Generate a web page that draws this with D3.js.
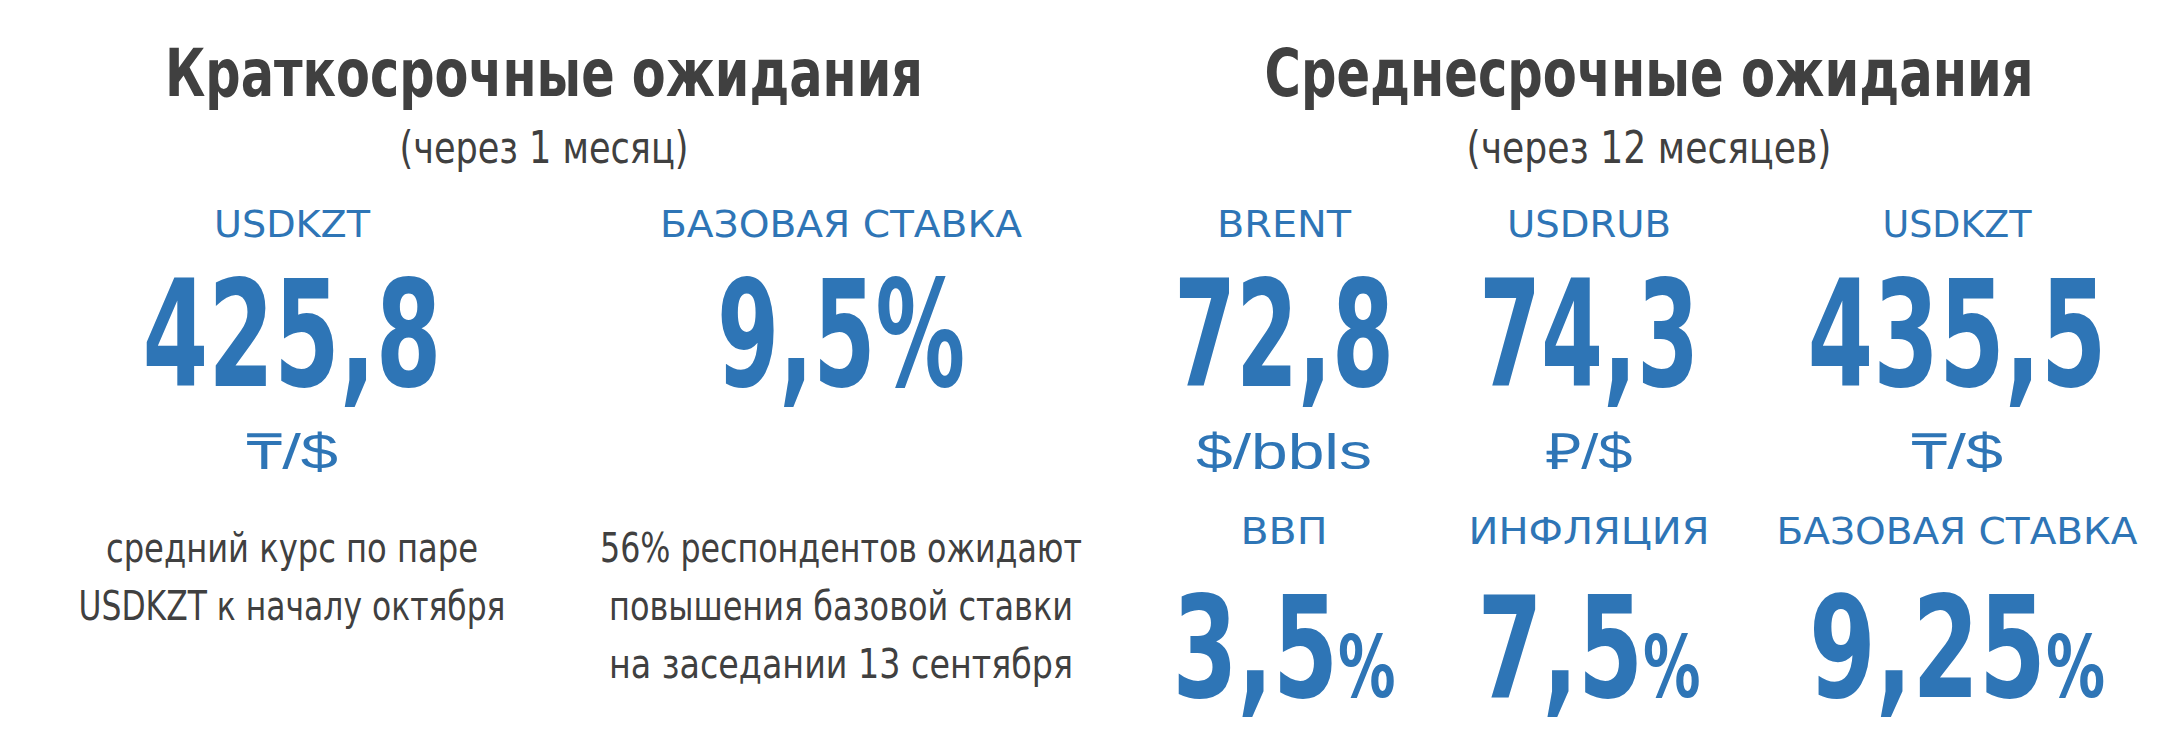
<!DOCTYPE html>
<html><head><meta charset="utf-8">
<script src="https://cdn.jsdelivr.net/npm/d3@7"></script>
<style>body{margin:0;background:#fff}</style>
</head><body>
<svg id="c" width="2160" height="745"></svg>
<script>
const titles = ["Краткосрочные ожидания", "Среднесрочные ожидания"];
const subtitles = ["(через 1 месяц)", "(через 12 месяцев)"];
const shortLabels = ["USDKZT", "БАЗОВАЯ СТАВКА"];
const shortValues = ["425,8", "9,5%"];
const shortUnits = ["₸/$", ""];
const shortNotes = [["средний курс по паре", "USDKZT к началу октября"],
                    ["56% респондентов ожидают", "повышения базовой ставки", "на заседании 13 сентября"]];
const midLabels = ["BRENT", "USDRUB", "USDKZT"];
const midValues = ["72,8", "74,3", "435,5"];
const midUnits = ["$/bbls", "₽/$", "₸/$"];
const midLabels2 = ["ВВП", "ИНФЛЯЦИЯ", "БАЗОВАЯ СТАВКА"];
const midValues2 = ["3,5", "7,5", "9,25"];

const BLUE = "#2E75B6", GREY = "#404040";
const NARROW = "'Liberation Sans Narrow','DejaVu Sans Condensed',sans-serif";
const svg = d3.select("#c");

const xTitle = d3.scaleOrdinal().domain([0,1]).range([544,1649]);
const xShort = d3.scaleOrdinal().domain([0,1]).range([292,841]);
const xMid = d3.scaleOrdinal().domain([0,1,2]).range([1284,1589,1957]);

function txt(x, y, s, size, opts={}) {
  const t = svg.append("text").attr("x", x).attr("y", y).attr("text-anchor","middle")
    .attr("font-family", opts.family || NARROW).attr("font-size", size)
    .attr("font-weight", opts.weight || "normal").attr("fill", opts.fill || BLUE).text(s);
  if (opts.len) t.attr("textLength", opts.len).attr("lengthAdjust","spacingAndGlyphs");
  return t;
}

const titleLen = [758, 769], subLen = [289, 365];
titles.forEach((s,i)=> txt(xTitle(i), 96, s, 66, {weight:"bold", fill:GREY, len:titleLen[i]}));
subtitles.forEach((s,i)=> txt(xTitle(i), 163, s, 44, {fill:GREY, len:subLen[i]}));

const shortLabLen = [156, 362], shortValLen = [299, 248];
shortLabels.forEach((s,i)=> txt(xShort(i), 237, s, 38, {len:shortLabLen[i]}));
shortValues.forEach((s,i)=> txt(xShort(i), 386, s, 148, {weight:"bold", len:shortValLen[i]}));
shortUnits.forEach((s,i)=> { if (s) txt(xShort(i), 469, s, 50, {family:"'Liberation Sans',Arial,sans-serif", len:92}); });
const noteLen = [[372,427],[482,464,464]];
shortNotes.forEach((lines,i)=> lines.forEach((s,j)=>
  txt(xShort(i), 562 + j*58, s, 40, {fill:GREY, len:noteLen[i][j]})));

const midLabLen = [134,164,149], midValLen = [220,220,299], midUnitLen = [176,87,92];
midLabels.forEach((s,i)=> txt(xMid(i), 237, s, 38, {len:midLabLen[i]}));
midValues.forEach((s,i)=> txt(xMid(i), 386, s, 148, {weight:"bold", len:midValLen[i]}));
midUnits.forEach((s,i)=> txt(xMid(i), 469, s, 50, {family:"'Liberation Sans',Arial,sans-serif", len:midUnitLen[i]}));
const lab2Len = [87,241,361];
midLabels2.forEach((s,i)=> txt(xMid(i), 544, s, 38, {len:lab2Len[i]}));
const val2Len = [223,223,296];
midValues2.forEach((s,i)=> {
  const t = txt(xMid(i), 697, null, 140, {weight:"bold", len:val2Len[i]});
  t.text(null);
  t.append("tspan").text(s);
  t.append("tspan").attr("font-size", 86).text("%");
});
</script>
</body></html>
